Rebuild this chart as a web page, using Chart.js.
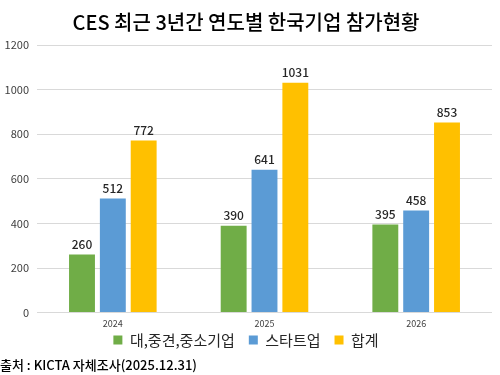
<!DOCTYPE html>
<html>
<head>
<meta charset="utf-8">
<script src="https://cdn.jsdelivr.net/npm/chart.js@4/dist/chart.umd.min.js"></script>
<style>
  html, body { margin: 0; padding: 0; background: #fff; }
  #wrap { width: 500px; height: 375px; }
</style>
</head>
<body>
<div id="wrap"><canvas id="cesChart"></canvas></div>
<script>
var years = ["2024", "2025", "2026"];
var bigCompanies = [260, 390, 395];
var startups = [512, 641, 458];
var totals = [772, 1031, 853];
var seriesNames = ["대,중견,중소기업", "스타트업", "합계"];

var KR = "'Noto Sans CJK KR', 'Noto Sans', sans-serif";

// value labels above each bar
var barLabels = {
    id: 'barLabels',
    afterDatasetsDraw: function (chart) {
        var ctx = chart.ctx;
        ctx.save();
        ctx.font = "500 12px " + KR;
        ctx.fillStyle = "#262626";
        ctx.textAlign = "center";
        ctx.textBaseline = "bottom";
        chart.data.datasets.forEach(function (ds, i) {
            chart.getDatasetMeta(i).data.forEach(function (bar, j) {
                ctx.fillText(ds.data[j], bar.x, bar.y - 4);
            });
        });
        ctx.restore();
    }
};

// legend needs wide gaps between items but sits tight under the axis
var liftLegend = {
    id: 'liftLegend',
    afterLayout: function (chart) {
        chart.legend.top -= 17;
        chart.legend.bottom -= 17;
    }
};

var ctx = document.getElementById("cesChart").getContext('2d');
var myChart = new Chart(ctx, {
    type: 'bar',
    data: {
        labels: years,
        datasets: [{
            label: seriesNames[0],
            data: bigCompanies,
            backgroundColor: "#70AD47"
        }, {
            label: seriesNames[1],
            data: startups,
            backgroundColor: "#5B9BD5"
        }, {
            label: seriesNames[2],
            data: totals,
            backgroundColor: "#FFC000"
        }]
    },
    options: {
        responsive: true,
        maintainAspectRatio: false,
        animation: false,
        categoryPercentage: 0.61,
        barPercentage: 0.84,
        layout: { padding: { left: 0, right: 8, top: 0, bottom: 0 } },
        scales: {
            x: {
                grid: { display: false, drawTicks: false },
                border: { display: false },
                ticks: { font: { family: KR, size: 9 }, color: "#404040", padding: 6 }
            },
            y: {
                min: 0,
                max: 1200,
                afterFit: function (scale) { scale.width = 37; },
                ticks: {
                    stepSize: 200,
                    font: { family: KR, size: 11 },
                    color: "#404040",
                    padding: 8,
                    callback: function (v) { return String(v); }
                },
                grid: { color: "#d9d9d9", drawTicks: false },
                border: { display: false }
            }
        },
        plugins: {
            title: {
                display: true,
                text: "CES 최근 3년간 연도별 한국기업 참가현황",
                font: { family: KR, size: 20, weight: '500' },
                color: "#000",
                padding: { top: 10, bottom: 11 }
            },
            legend: {
                position: 'bottom',
                labels: {
                    boxWidth: 9,
                    boxHeight: 9,
                    font: { family: KR, size: 15 },
                    color: "#262626",
                    padding: 14
                }
            },
            subtitle: {
                display: true,
                position: 'bottom',
                align: 'start',
                text: "출처 : KICTA 자체조사(2025.12.31)",
                font: { family: KR, size: 13, weight: '500' },
                color: "#000",
                padding: { top: -17, bottom: 2 }
            },
            tooltip: { enabled: false }
        }
    },
    plugins: [barLabels, liftLegend]
});
</script>
</body>
</html>
